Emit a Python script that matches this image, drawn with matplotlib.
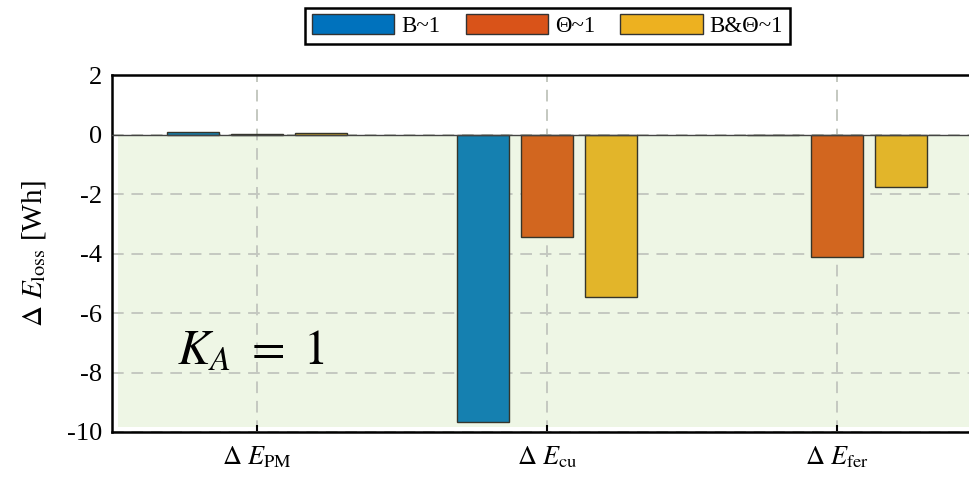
import matplotlib.pyplot as plt
from matplotlib.patches import Rectangle, Patch
import numpy as np

plt.rcParams['font.family'] = ['Liberation Serif', 'DejaVu Serif']
plt.rcParams['mathtext.fontset'] = 'stix'
plt.rcParams['axes.unicode_minus'] = False

# data
categories = [r'$\Delta\ E_{\rm PM}$', r'$\Delta\ E_{\rm cu}$', r'$\Delta\ E_{\rm fer}$']
series_names = ['B~1', 'Θ~1', 'B&Θ~1']
b_vals = [0.10, -9.65, 0.0]
theta_vals = [0.03, -3.45, -4.13]
both_vals = [0.04, -5.45, -1.75]
yticks = [2, 0, -2, -4, -6, -8, -10]

colors = ['#0072BD', '#D95319', '#EDB120']
bar_colors = ['#1580B0', '#D2661F', '#E2B52A']

fig = plt.figure(figsize=(9.69, 4.83), dpi=100)
ax = fig.add_axes([0.1156, 0.1056, 0.898, 0.739])

x = np.arange(1, len(categories) + 1)
w = 0.18
off = 0.22

# light green shaded region under zero
ax.add_patch(Rectangle((0.52, -9.82), 3.2, 9.82, facecolor='#EEF6E5',
                       edgecolor='none', zorder=0))

for i, vals in enumerate([b_vals, theta_vals, both_vals]):
    ax.bar(x + (i - 1) * off, vals, width=w, color=bar_colors[i],
           edgecolor='#35352a', linewidth=1.0, zorder=3)

ax.axhline(0, color='#444444', lw=1.0, zorder=4)

ax.set_xlim(0.5, 3.5)
ax.set_ylim(-10, 2)
ax.set_yticks(yticks)
ax.set_xticks(x)
ax.set_xticklabels(categories, fontsize=20)
ax.tick_params(axis='both', direction='in', labelsize=19, length=5, width=1.5)
ax.tick_params(axis='y', length=0, pad=7)
ax.tick_params(axis='x', pad=9)

ax.grid(True, ls=(0, (6, 4)), color='#c4c8c0', lw=1.4, zorder=1)
ax.set_axisbelow(True)

for s in ['top', 'left', 'bottom']:
    ax.spines[s].set_linewidth(1.8)
ax.spines['right'].set_visible(False)

ax.set_ylabel(r'$\Delta\ E_{\rm loss}$ [Wh]', fontsize=21, labelpad=14)

ax.text(0.724, -7.73, r'$K_A\ =\ 1$', fontsize=35, va='baseline', zorder=5)

handles = [Patch(facecolor=c, edgecolor='#333333', lw=1.0) for c in colors]
leg = fig.legend(handles, series_names, loc='upper center',
                 bbox_to_anchor=(0.565, 1.008), ncol=3, fontsize=16.5,
                 fancybox=False, edgecolor='black', framealpha=1,
                 handlelength=3.6, handleheight=0.95, columnspacing=1.1,
                 handletextpad=0.3, borderpad=0.3)
leg.get_frame().set_linewidth(1.8)

fig.savefig('out.png', dpi=100)
